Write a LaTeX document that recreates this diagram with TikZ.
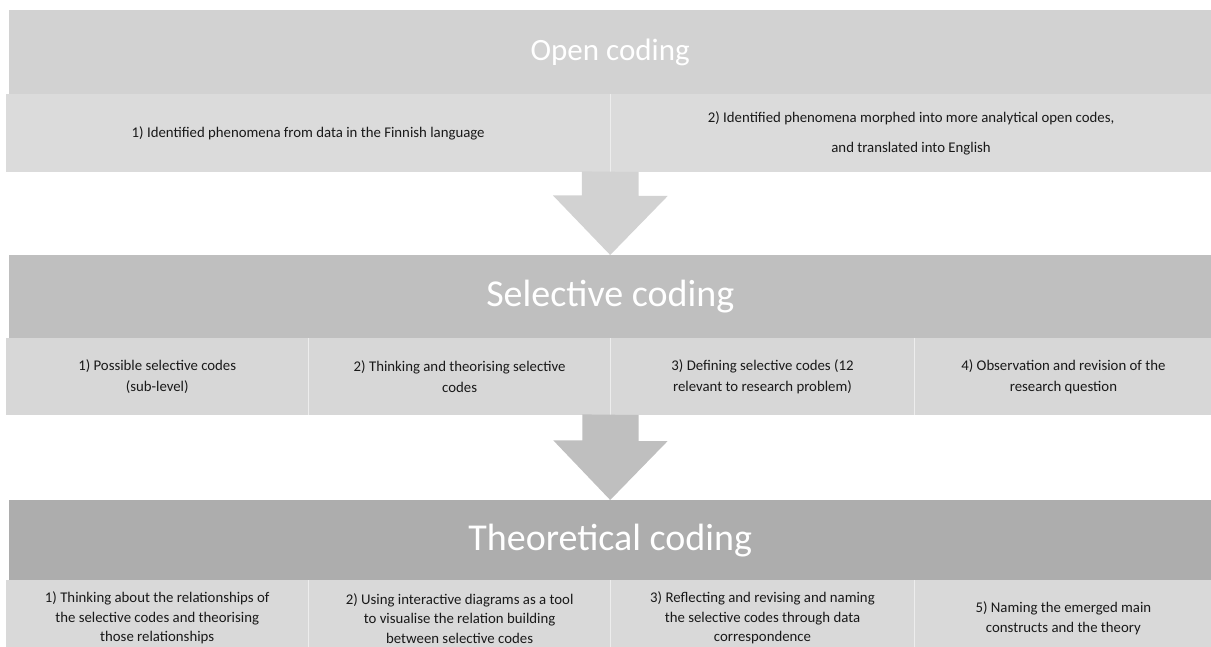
\documentclass[tikz,border=0pt]{standalone}
\usepackage{fontspec}
\setmainfont{Carlito}
\usetikzlibrary{positioning}
\definecolor{openhead}{RGB}{210,210,210}
\definecolor{opensub}{RGB}{219,219,219}
\definecolor{selhead}{RGB}{191,191,191}
\definecolor{selsub}{RGB}{215,215,215}
\definecolor{theohead}{RGB}{173,173,173}
\definecolor{theosub}{RGB}{217,217,217}
\definecolor{inktext}{RGB}{25,25,25}

\begin{document}
\begin{tikzpicture}[x=1pt,y=-1pt,node distance=0pt]
  \tikzstyle{head}=[inner sep=0pt,text=white,minimum width=1202pt,
                    anchor=north west,font=\fontsize{38}{40}\selectfont]
  \tikzstyle{sub}=[inner sep=0pt,align=center,text=inktext,
                   font=\fontsize{14.8}{20.5}\selectfont]
  \tikzstyle{divider}=[draw=white!55!selsub,line width=1pt]

  \useasboundingbox (0,0) rectangle (1211,647);
  \clip (0,0) rectangle (1211,647);

  % open coding
  \node[head,fill=openhead,minimum height=84pt,font=\fontsize{31}{34}\selectfont]
        (OPEN) at (9,10) {Open coding};
  \node[sub,fill=opensub,minimum width=604pt,minimum height=78pt,anchor=north west]
        (O1) at (6,94) {1) Identified phenomena from data in the Finnish language};
  \node[sub,fill=opensub,minimum width=601pt,minimum height=78pt,right=of O1]
        (O2) {2) Identified phenomena morphed into more analytical open codes,\\[9.5pt]
              and translated into English};
  \draw[divider] (O1.north east) -- (O1.south east);

  % selective coding
  \node[head,fill=selhead,minimum height=83pt] (SELECTIVE) at (9,255) {Selective coding};
  \node[sub,fill=selsub,minimum width=302pt,minimum height=77pt,anchor=north west]
        (S1) at (6,338) {1) Possible selective codes\\(sub-level)};
  \node[sub,fill=selsub,minimum width=302pt,minimum height=77pt,right=of S1]
        (S2) {2) Thinking and theorising selective\\codes};
  \node[sub,fill=selsub,minimum width=303pt,minimum height=77pt,right=of S2]
        (S3) {3) Defining selective codes (12\\relevant to research problem)};
  \node[sub,fill=selsub,minimum width=298pt,minimum height=77pt,right=of S3]
        (S4) {4) Observation and revision of the\\research question};
  \foreach \n in {S1,S2,S3}
    \draw[divider] (\n.north east) -- (\n.south east);

  % theoretical coding
  \tikzstyle{theo}=[sub,fill=theosub,minimum height=76pt,
                    font=\fontsize{14.8}{19.5}\selectfont]
  \node[head,fill=theohead,minimum height=80pt] (THEORETICAL) at (9,500) {Theoretical coding};
  \node[theo,minimum width=302pt,anchor=north west]
        (T1) at (6,580) {1) Thinking about the relationships of\\the selective codes and theorising\\those relationships};
  \node[theo,minimum width=302pt,right=of T1]
        (T2) {2) Using interactive diagrams as a tool\\to visualise the relation building\\between selective codes};
  \node[theo,minimum width=303pt,right=of T2]
        (T3) {3) Reflecting and revising and naming\\the selective codes through data\\correspondence};
  \node[theo,minimum width=298pt,right=of T3]
        (T4) {5) Naming the emerged main\\constructs and the theory};
  \fill[theosub] (T1.south west) rectangle (1211,647);
  \foreach \n in {T1,T2,T3}
    \draw[divider] (\n.north east) -- (\n.north east |- 0,647);

  % block arrows
  \fill[openhead] ([xshift=-28.5pt,yshift=1pt]O1.south east) -- ++(0,24) -- ++(-29,0)
        -- (SELECTIVE.north) -- ++(57.5,-59) -- ++(-29,0) -- ++(0,-24) -- cycle;
  \fill[selhead] ([xshift=-28.5pt,yshift=1pt]S2.south east) -- ++(0,26) -- ++(-29,0)
        -- (THEORETICAL.north) -- ++(57.5,-59) -- ++(-29,0) -- ++(0,-26) -- cycle;
\end{tikzpicture}
\end{document}
